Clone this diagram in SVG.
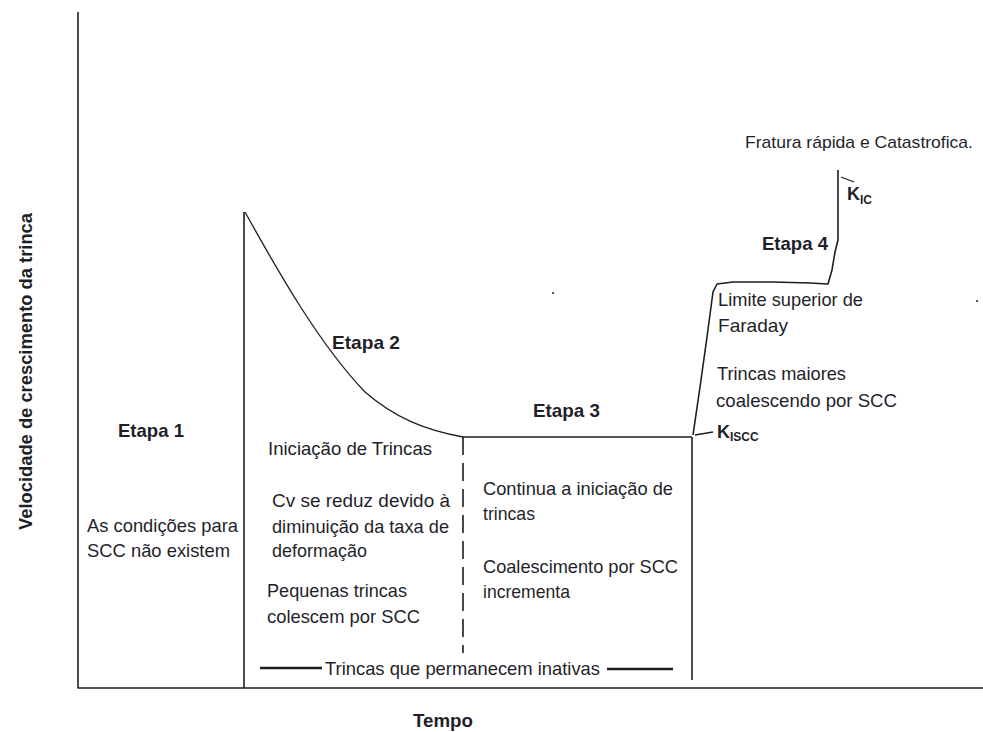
<svg xmlns="http://www.w3.org/2000/svg" width="983" height="732" viewBox="0 0 983 732">
<style>
.ln{fill:none;stroke:#1e1e1e;stroke-width:1.6;stroke-linejoin:round}
.cv{fill:none;stroke:#1e1e1e;stroke-width:1.3}
.thick{fill:none;stroke:#1e1e1e;stroke-width:2.6}
.t{font-family:"Liberation Sans",Arial,sans-serif;font-size:19px;fill:#1f1f2a}
.b{font-family:"Liberation Sans",Arial,sans-serif;font-size:19px;font-weight:bold;fill:#1f1f2a}
</style>
<rect width="983" height="732" fill="#fff"/>
<g id="connectors">
<path class="ln" d="M78 12 V688 H983"/>
<path class="ln" d="M244 212 V688"/>
<path class="cv" d="M245 212 C280 275 320 345 365 392 C395 418 425 430 463 437"/>
<path class="ln" d="M463 437 H692"/>
<path class="ln" d="M463 437 V653" stroke-dasharray="18 8"/>
<path class="ln" d="M692 437 V680"/>
<path class="ln" d="M693 435 L700 387 L707 337 L713 292 L717 284 L733 282 L773 282 L810 283 L828 284 L832 270 L835 252 L838 240 V170"/>
<path class="cv" d="M841 177 L854 182"/>
<path class="cv" d="M695 435 L713 432"/>
<path class="thick" d="M260 668 H322 M607 669 H673"/>
<rect x="552" y="292" width="2" height="2" fill="#555"/>
<rect x="976" y="300" width="2" height="2" fill="#555"/>
</g>
<g id="axis-labels">
<text class="b" transform="translate(32 530) rotate(-90)" style="font-size:18px" textLength="317" lengthAdjust="spacingAndGlyphs">Velocidade de crescimento da trinca</text>
<text class="b" x="413" y="727" textLength="60" lengthAdjust="spacingAndGlyphs">Tempo</text>
</g>
<g id="etapa1">
<text class="b" x="118" y="437" textLength="66" lengthAdjust="spacingAndGlyphs">Etapa 1</text>
<text class="t" x="87" y="532" textLength="151" lengthAdjust="spacingAndGlyphs">As condições para</text>
<text class="t" x="87" y="557" textLength="143" lengthAdjust="spacingAndGlyphs">SCC não existem</text>
</g>
<g id="etapa2">
<text class="b" x="332" y="349" textLength="68" lengthAdjust="spacingAndGlyphs">Etapa 2</text>
<text class="t" x="268" y="455" textLength="164" lengthAdjust="spacingAndGlyphs">Iniciação de Trincas</text>
<text class="t" x="272" y="507" textLength="178" lengthAdjust="spacingAndGlyphs">Cv se reduz devido à</text>
<text class="t" x="272" y="533" textLength="177" lengthAdjust="spacingAndGlyphs">diminuição da taxa de</text>
<text class="t" x="272" y="557" textLength="95" lengthAdjust="spacingAndGlyphs">deformação</text>
<text class="t" x="267" y="597" textLength="140" lengthAdjust="spacingAndGlyphs">Pequenas trincas</text>
<text class="t" x="267" y="623" textLength="153" lengthAdjust="spacingAndGlyphs">colescem por SCC</text>
</g>
<g id="etapa3">
<text class="b" x="533" y="417" textLength="67" lengthAdjust="spacingAndGlyphs">Etapa 3</text>
<text class="t" x="483" y="495" textLength="190" lengthAdjust="spacingAndGlyphs">Continua a iniciação de</text>
<text class="t" x="483" y="520" textLength="52" lengthAdjust="spacingAndGlyphs">trincas</text>
<text class="t" x="483" y="573" textLength="195" lengthAdjust="spacingAndGlyphs">Coalescimento por SCC</text>
<text class="t" x="483" y="598" textLength="87" lengthAdjust="spacingAndGlyphs">incrementa</text>
</g>
<g id="inativas">
<text class="t" x="325" y="675" textLength="275" lengthAdjust="spacingAndGlyphs">Trincas que permanecem inativas</text>
</g>
<g id="etapa4">
<text class="b" x="762" y="250" textLength="66" lengthAdjust="spacingAndGlyphs">Etapa 4</text>
<text class="t" x="718" y="306" textLength="145" lengthAdjust="spacingAndGlyphs">Limite superior de</text>
<text class="t" x="718" y="332" textLength="70" lengthAdjust="spacingAndGlyphs">Faraday</text>
<text class="t" x="717" y="380" textLength="129" lengthAdjust="spacingAndGlyphs">Trincas maiores</text>
<text class="t" x="716" y="407" textLength="181" lengthAdjust="spacingAndGlyphs">coalescendo por SCC</text>
<text class="t" x="745" y="148" style="font-size:17px" textLength="228" lengthAdjust="spacingAndGlyphs">Fratura rápida e Catastrofica.</text>
</g>
<g id="kiscc">
<text class="b" x="717" y="438" style="font-size:18px">K<tspan dy="3" style="font-size:12px">ISCC</tspan></text>
</g>
<g id="kic">
<text class="b" x="847" y="200" style="font-size:18px">K<tspan dy="4" style="font-size:12px">IC</tspan></text>
</g>
</svg>
